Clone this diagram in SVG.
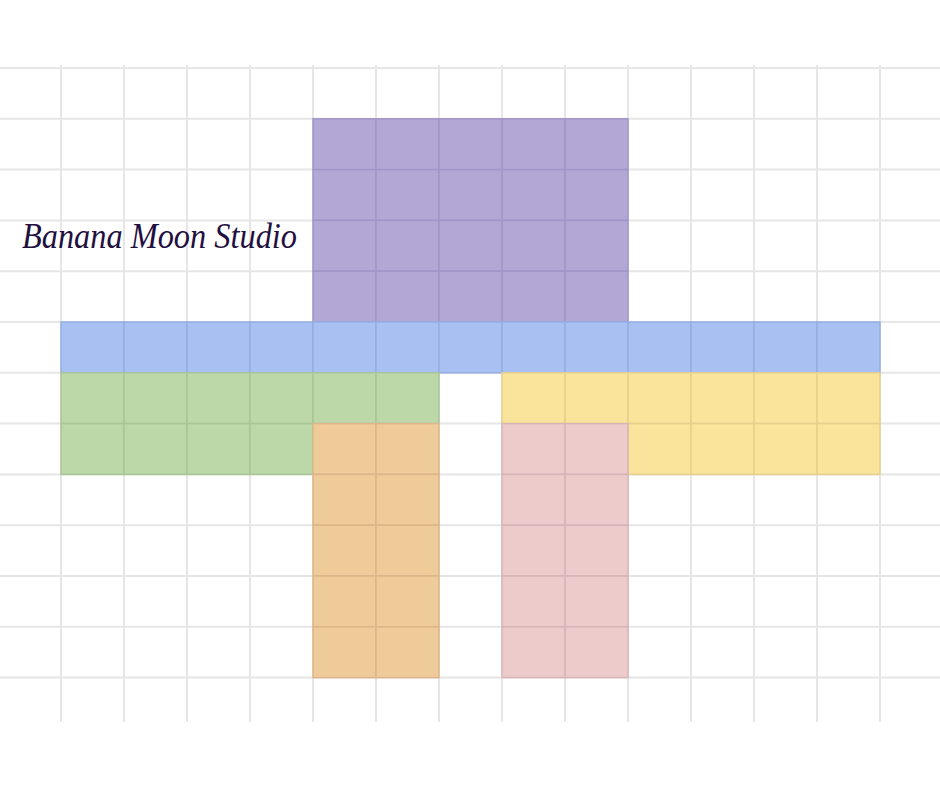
<svg xmlns="http://www.w3.org/2000/svg" width="940" height="788" viewBox="0 0 940 788">
<style>
.grid line{stroke:#e6e6e6;stroke-width:2}
.c{stroke-width:1.5}
.pu{fill:#b3a7d6;stroke:#a296c9}
.bl{fill:#a9c1f2;stroke:#95aee2}
.gr{fill:#bcd7a8;stroke:#a9c598}
.ye{fill:#fae39a;stroke:#e5cf8c}
.or{fill:#f0cb9a;stroke:#dcb68a}
.pk{fill:#edcbcb;stroke:#d6b4b8}
.title{font-family:"Liberation Serif",serif;font-style:italic;font-size:36px;fill:#1f1040}
</style>
<rect width="940" height="788" fill="#ffffff"/>
<g class="grid" id="grid">
<line x1="0" y1="68" x2="940" y2="68"/>
<line x1="0" y1="118.8" x2="940" y2="118.8"/>
<line x1="0" y1="169.6" x2="940" y2="169.6"/>
<line x1="0" y1="220.4" x2="940" y2="220.4"/>
<line x1="0" y1="271.2" x2="940" y2="271.2"/>
<line x1="0" y1="322" x2="940" y2="322"/>
<line x1="0" y1="372.8" x2="940" y2="372.8"/>
<line x1="0" y1="423.6" x2="940" y2="423.6"/>
<line x1="0" y1="474.4" x2="940" y2="474.4"/>
<line x1="0" y1="525.2" x2="940" y2="525.2"/>
<line x1="0" y1="576" x2="940" y2="576"/>
<line x1="0" y1="626.8" x2="940" y2="626.8"/>
<line x1="0" y1="677.6" x2="940" y2="677.6"/>
<line x1="61" y1="65" x2="61" y2="722"/>
<line x1="124" y1="65" x2="124" y2="722"/>
<line x1="187" y1="65" x2="187" y2="722"/>
<line x1="250" y1="65" x2="250" y2="722"/>
<line x1="313" y1="65" x2="313" y2="722"/>
<line x1="376" y1="65" x2="376" y2="722"/>
<line x1="439" y1="65" x2="439" y2="722"/>
<line x1="502" y1="65" x2="502" y2="722"/>
<line x1="565" y1="65" x2="565" y2="722"/>
<line x1="628" y1="65" x2="628" y2="722"/>
<line x1="691" y1="65" x2="691" y2="722"/>
<line x1="754" y1="65" x2="754" y2="722"/>
<line x1="817" y1="65" x2="817" y2="722"/>
<line x1="880" y1="65" x2="880" y2="722"/>
</g>
<g id="purple" class="c pu">
<rect x="313" y="118.8" width="63" height="50.8"/><rect x="376" y="118.8" width="63" height="50.8"/><rect x="439" y="118.8" width="63" height="50.8"/><rect x="502" y="118.8" width="63" height="50.8"/><rect x="565" y="118.8" width="63" height="50.8"/>
<rect x="313" y="169.6" width="63" height="50.8"/><rect x="376" y="169.6" width="63" height="50.8"/><rect x="439" y="169.6" width="63" height="50.8"/><rect x="502" y="169.6" width="63" height="50.8"/><rect x="565" y="169.6" width="63" height="50.8"/>
<rect x="313" y="220.4" width="63" height="50.8"/><rect x="376" y="220.4" width="63" height="50.8"/><rect x="439" y="220.4" width="63" height="50.8"/><rect x="502" y="220.4" width="63" height="50.8"/><rect x="565" y="220.4" width="63" height="50.8"/>
<rect x="313" y="271.2" width="63" height="50.8"/><rect x="376" y="271.2" width="63" height="50.8"/><rect x="439" y="271.2" width="63" height="50.8"/><rect x="502" y="271.2" width="63" height="50.8"/><rect x="565" y="271.2" width="63" height="50.8"/>
</g>
<g id="blue" class="c bl">
<rect x="61" y="322" width="63" height="50.8"/><rect x="124" y="322" width="63" height="50.8"/><rect x="187" y="322" width="63" height="50.8"/><rect x="250" y="322" width="63" height="50.8"/><rect x="313" y="322" width="63" height="50.8"/><rect x="376" y="322" width="63" height="50.8"/><rect x="439" y="322" width="63" height="50.8"/><rect x="502" y="322" width="63" height="50.8"/><rect x="565" y="322" width="63" height="50.8"/><rect x="628" y="322" width="63" height="50.8"/><rect x="691" y="322" width="63" height="50.8"/><rect x="754" y="322" width="63" height="50.8"/><rect x="817" y="322" width="63" height="50.8"/>
</g>
<g id="green" class="c gr">
<rect x="61" y="372.8" width="63" height="50.8"/><rect x="124" y="372.8" width="63" height="50.8"/><rect x="187" y="372.8" width="63" height="50.8"/><rect x="250" y="372.8" width="63" height="50.8"/><rect x="313" y="372.8" width="63" height="50.8"/><rect x="376" y="372.8" width="63" height="50.8"/>
<rect x="61" y="423.6" width="63" height="50.8"/><rect x="124" y="423.6" width="63" height="50.8"/><rect x="187" y="423.6" width="63" height="50.8"/><rect x="250" y="423.6" width="63" height="50.8"/>
</g>
<g id="yellow" class="c ye">
<rect x="502" y="372.8" width="63" height="50.8"/><rect x="565" y="372.8" width="63" height="50.8"/><rect x="628" y="372.8" width="63" height="50.8"/><rect x="691" y="372.8" width="63" height="50.8"/><rect x="754" y="372.8" width="63" height="50.8"/><rect x="817" y="372.8" width="63" height="50.8"/>
<rect x="628" y="423.6" width="63" height="50.8"/><rect x="691" y="423.6" width="63" height="50.8"/><rect x="754" y="423.6" width="63" height="50.8"/><rect x="817" y="423.6" width="63" height="50.8"/>
</g>
<g id="orange" class="c or">
<rect x="313" y="423.6" width="63" height="50.8"/><rect x="376" y="423.6" width="63" height="50.8"/>
<rect x="313" y="474.4" width="63" height="50.8"/><rect x="376" y="474.4" width="63" height="50.8"/>
<rect x="313" y="525.2" width="63" height="50.8"/><rect x="376" y="525.2" width="63" height="50.8"/>
<rect x="313" y="576" width="63" height="50.8"/><rect x="376" y="576" width="63" height="50.8"/>
<rect x="313" y="626.8" width="63" height="50.8"/><rect x="376" y="626.8" width="63" height="50.8"/>
</g>
<g id="pink" class="c pk">
<rect x="502" y="423.6" width="63" height="50.8"/><rect x="565" y="423.6" width="63" height="50.8"/>
<rect x="502" y="474.4" width="63" height="50.8"/><rect x="565" y="474.4" width="63" height="50.8"/>
<rect x="502" y="525.2" width="63" height="50.8"/><rect x="565" y="525.2" width="63" height="50.8"/>
<rect x="502" y="576" width="63" height="50.8"/><rect x="565" y="576" width="63" height="50.8"/>
<rect x="502" y="626.8" width="63" height="50.8"/><rect x="565" y="626.8" width="63" height="50.8"/>
</g>
<g id="title">
<text class="title" x="22" y="248" textLength="275" lengthAdjust="spacingAndGlyphs">Banana Moon Studio</text>
</g>
</svg>
